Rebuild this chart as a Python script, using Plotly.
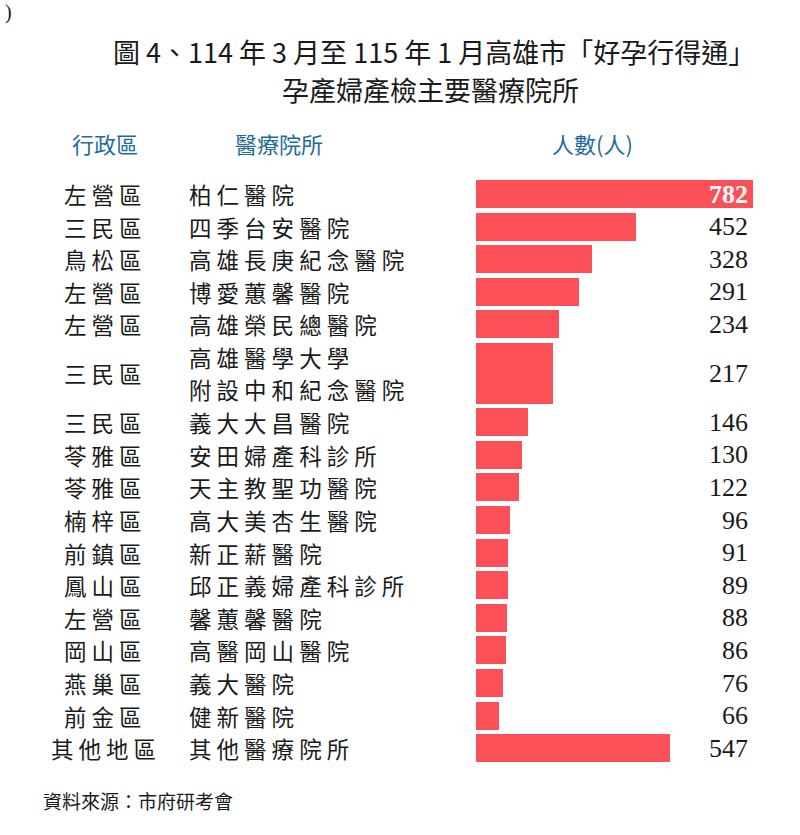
import plotly.graph_objects as go

districts = ["左營區", "三民區", "鳥松區", "左營區", "左營區", "三民區", "三民區", "苓雅區", "苓雅區",
             "楠梓區", "前鎮區", "鳳山區", "左營區", "岡山區", "燕巢區", "前金區", "其他地區"]
hospitals = ["柏仁醫院", "四季台安醫院", "高雄長庚紀念醫院", "博愛蕙馨醫院", "高雄榮民總醫院",
             "高雄醫學大學<br>附設中和紀念醫院", "義大大昌醫院", "安田婦產科診所", "天主教聖功醫院",
             "高大美杏生醫院", "新正薪醫院", "邱正義婦產科診所", "馨蕙馨醫院", "高醫岡山醫院",
             "義大醫院", "健新醫院", "其他醫療院所"]
counts = [782, 452, 328, 291, 234, 217, 146, 130, 122, 96, 91, 89, 88, 86, 76, 66, 547]
row_span = [1, 1, 1, 1, 1, 2, 1, 1, 1, 1, 1, 1, 1, 1, 1, 1, 1]

title1 = "圖 4、114 年 3 月至 115 年 1 月高雄市「好孕行得通」"
title2 = "孕產婦產檢主要醫療院所"
headers = ["行政區", "醫療院所", "人數(人)"]
source = "資料來源：市府研考會"

BAR = "#fc5058"
BLUE = "#1f6b9b"
CJK = "Noto Sans CJK TC"
SERIF = "Liberation Serif"
TXT = "#1a1a1a"

def spaced(s):
    return " ".join(list(s))

centers, widths = [], []
pos = 0
for sp in row_span:
    centers.append(pos + (sp - 1) / 2)
    widths.append(sp - 0.14)
    pos += sp

fig = go.Figure()
fig.add_trace(go.Bar(orientation="h", x=counts, y=centers, width=widths,
                     marker=dict(color=BAR, line=dict(width=0)), hoverinfo="skip"))

pitch = 32.6
y_top = -194 / pitch
y_bot = (835 - 194) / pitch
px_per = 277 / max(counts)

ann = []
for d, h, c, yc, i in zip(districts, hospitals, counts, centers, range(len(counts))):
    ann.append(dict(x=103 / 800, xref="paper", y=yc, yref="y", text=spaced(d), showarrow=False,
                    xanchor="center", yanchor="middle", font=dict(family=CJK, size=22.5, color=TXT)))
    lines = h.split("<br>")
    n = len(lines)
    for k, ln in enumerate(lines):
        ann.append(dict(x=187 / 800, xref="paper", y=yc + (k - (n - 1) / 2) * 0.98, yref="y",
                        text=spaced(ln), showarrow=False, xanchor="left", yanchor="middle",
                        font=dict(family=CJK, size=22.5, color=TXT)))
    first = (i == 0)
    ann.append(dict(x=max(counts), xref="x", y=yc, yref="y",
                    text=("<b>%d</b>" % c) if first else str(c), showarrow=False,
                    xanchor="right", yanchor="middle", xshift=-3,
                    font=dict(family=SERIF, size=26, color="white" if first else TXT)))

ann.append(dict(x=434 / 800, xref="paper", y=1 - 52 / 835, yref="paper", text=title1, showarrow=False,
                xanchor="center", yanchor="middle", font=dict(family=CJK, size=27, color=TXT)))
ann.append(dict(x=431 / 800, xref="paper", y=1 - 89 / 835, yref="paper", text=title2, showarrow=False,
                xanchor="center", yanchor="middle", font=dict(family=CJK, size=27, color=TXT)))
for htxt, hx in zip(headers, [105, 279, 592]):
    ann.append(dict(x=hx / 800, xref="paper", y=1 - 143 / 835, yref="paper", text=htxt, showarrow=False,
                    xanchor="center", yanchor="middle", font=dict(family=CJK, size=22, color=BLUE)))
ann.append(dict(x=41 / 800, xref="paper", y=1 - 800 / 835, yref="paper", text=source, showarrow=False,
                xanchor="left", yanchor="middle", font=dict(family=CJK, size=19, color=TXT)))
ann.append(dict(x=3 / 800, xref="paper", y=1 - 13 / 835, yref="paper", text=")", showarrow=False,
                xanchor="left", yanchor="middle", font=dict(family=SERIF, size=20, color=TXT)))

fig.update_layout(
    width=800, height=835, margin=dict(l=0, r=0, t=0, b=0),
    paper_bgcolor="white", plot_bgcolor="white", showlegend=False,
    xaxis=dict(domain=[476 / 800, 1], range=[0, 324 / px_per], visible=False, fixedrange=True),
    yaxis=dict(domain=[0, 1], range=[y_bot, y_top], visible=False, fixedrange=True),
    annotations=ann, bargap=0,
)
fig.write_html("out.html")
